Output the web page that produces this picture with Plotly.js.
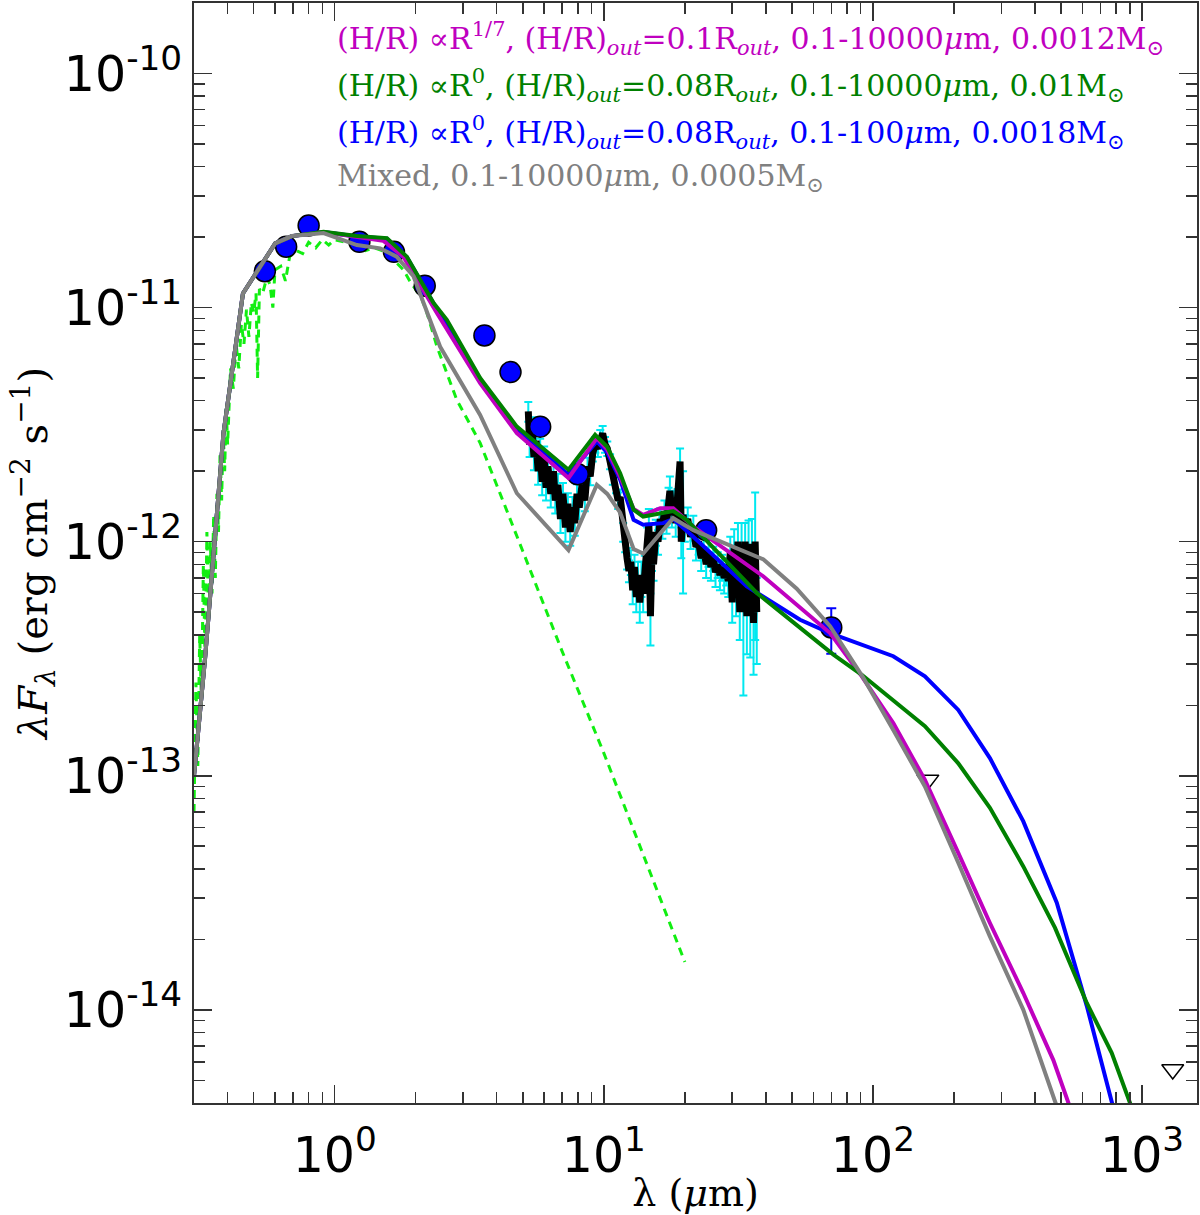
<!DOCTYPE html>
<html>
<head>
<meta charset="utf-8">
<script src="https://cdn.plot.ly/plotly-3.0.1.min.js"></script>
<style>
  body { margin: 0; background: #fff; }
  #sed { width: 1200px; height: 1215px; }
</style>
</head>
<body>
<div id="sed"></div>
<script>
'use strict';

// stellar photosphere (green dashed), wavelength in micron, lambda*F_lambda in erg/cm2/s
var starWav = [0.300, 0.305, 0.310, 0.315, 0.320, 0.325, 0.330, 0.335, 0.340, 0.345, 0.350, 0.355,
  0.360, 0.365, 0.370, 0.375, 0.380, 0.385, 0.390, 0.395, 0.400, 0.410, 0.420, 0.430, 0.440,
  0.450, 0.460, 0.470, 0.480, 0.490, 0.500, 0.510, 0.517, 0.525, 0.540, 0.560, 0.575, 0.589,
  0.600, 0.630, 0.656, 0.680, 0.720, 0.760, 0.800, 0.850, 0.900, 0.950, 1.00, 1.10, 1.20, 1.30,
  1.40, 1.50, 1.60, 1.70, 1.80, 1.90, 2.00, 2.10, 2.20, 2.40, 2.84, 3.47, 5.0, 7.0, 10.0, 14.0, 20.0];
var starFlux = [7.0e-14, 2.5e-13, 1.1e-13, 4.0e-13, 2.0e-13, 8.0e-13, 3.0e-13, 1.1e-12, 4.5e-13, 1.0e-12, 6.0e-13, 1.3e-12,
  7.0e-13, 1.6e-12, 1.1e-12, 2.4e-12, 1.5e-12, 3.0e-12, 2.0e-12, 3.8e-12, 2.6e-12, 5.5e-12, 4.5e-12, 7.0e-12, 5.5e-12,
  8.5e-12, 7.0e-12, 9.8e-12, 7.5e-12, 1.05e-11, 9.5e-12, 1.15e-11, 5.0e-12, 1.2e-11, 1.15e-11, 1.35e-11, 1.25e-11, 1.0e-11,
  1.45e-11, 1.5e-11, 1.3e-11, 1.65e-11, 1.75e-11, 1.7e-11, 1.9e-11, 1.8e-11, 1.95e-11, 1.85e-11, 1.95e-11, 1.9e-11, 1.85e-11, 1.75e-11,
  1.8e-11, 1.75e-11, 1.7e-11, 1.55e-11, 1.45e-11, 1.3e-11, 1.2e-11, 1.1e-11, 9.5e-12, 6.8e-12, 4.04e-12, 2.64e-12, 9.1e-13, 3.4e-13, 1.25e-13, 4.6e-14, 1.6e-14];

// Spitzer IRS spectrum (black) and its errors, flux in units of 1e-12
var irsWav = [5.24, 5.3, 5.4, 5.5, 5.6, 5.7, 5.8, 5.9, 6.0, 6.1, 6.2, 6.35, 6.5, 6.6, 6.75, 6.9, 7.05, 7.2, 7.35, 7.5,
  7.65, 7.8, 7.95, 8.1, 8.3, 8.5, 8.7, 8.9, 9.1, 9.3, 9.5, 9.7, 9.9, 10.1, 10.3, 10.55, 10.8, 11.1, 11.3, 11.5,
  11.8, 12.0, 12.2, 12.4, 12.6, 12.8, 13.0, 13.2, 13.4, 13.6, 13.8, 14.0, 14.2, 14.5, 14.7, 14.9, 15.1, 15.3, 15.6, 15.9,
  16.2, 16.5, 16.8, 17.1, 17.4, 17.6, 17.9, 18.2, 18.5, 18.8, 19.2, 19.4, 19.7, 20.0, 20.5, 21.0, 21.5, 22.0, 22.5, 23.0,
  23.5, 24.0, 24.5, 25.0, 25.5, 26.0, 26.5, 27.0, 27.5, 28.0, 28.5, 29.0, 29.5, 30.0, 30.5, 31.0, 31.5, 32.0, 32.5, 33.0,
  33.5, 34.0, 34.5, 35.0, 35.5, 36.0, 36.5, 37.0];
var irsFlux = [3.6, 2.6, 3.1, 2.3, 2.7, 2.0, 2.5, 1.8, 2.3, 1.7, 2.1, 1.6, 2.0, 1.5, 1.75, 1.25, 1.6, 1.15, 1.45, 1.1,
  1.4, 1.2, 1.6, 1.4, 1.75, 1.5, 2.1, 1.9, 2.4, 2.6, 2.5, 2.8, 2.9, 2.6, 2.5, 2.2, 1.9, 1.75, 1.5, 1.55,
  1.1, 1.0, 0.85, 0.75, 0.82, 0.62, 0.78, 0.58, 0.72, 0.55, 0.7, 0.6, 0.75, 1.0, 1.2, 0.48, 0.9, 0.8, 1.1, 1.0,
  1.25, 1.15, 1.35, 1.2, 1.5, 1.65, 1.3, 1.45, 1.2, 1.5, 2.2, 1.0, 1.3, 1.15, 1.25, 1.05, 1.15, 0.95, 1.0, 0.85,
  0.95, 0.8, 0.9, 0.78, 0.85, 0.74, 0.8, 0.72, 0.78, 0.7, 0.75, 0.68, 0.9, 0.55, 0.95, 0.6, 1.0, 0.5, 0.95, 0.55,
  1.0, 0.48, 0.98, 0.52, 0.95, 0.45, 1.0, 0.5];
var irsErr = [0.35, 0.3, 0.3, 0.28, 0.28, 0.25, 0.25, 0.22, 0.25, 0.2, 0.22, 0.2, 0.2, 0.18, 0.2, 0.16, 0.18, 0.15, 0.16, 0.14,
  0.15, 0.14, 0.16, 0.15, 0.16, 0.15, 0.18, 0.16, 0.2, 0.2, 0.2, 0.2, 0.22, 0.2, 0.18, 0.16, 0.15, 0.14, 0.12, 0.12,
  0.1, 0.1, 0.09, 0.08, 0.1, 0.08, 0.1, 0.08, 0.1, 0.1, 0.12, 0.1, 0.12, 0.15, 0.18, 0.12, 0.15, 0.12, 0.14, 0.12,
  0.14, 0.12, 0.15, 0.12, 0.2, 0.25, 0.15, 0.2, 0.15, 0.18, 0.3, 0.15, 0.7, 0.15, 0.15, 0.12, 0.14, 0.12, 0.12, 0.1,
  0.12, 0.1, 0.12, 0.1, 0.1, 0.1, 0.1, 0.1, 0.1, 0.1, 0.1, 0.1, 0.15, 0.1, 0.18, 0.12, 0.2, 0.12, 0.25, 0.33,
  0.2, 0.15, 0.25, 0.2, 0.3, 0.18, 0.62, 0.2];

// broadband photometry (blue dots)
var photWav = [0.55, 0.66, 0.80, 1.235, 1.66, 2.16, 3.6, 4.5, 5.8, 8.0, 24, 70];
var photFlux = [1.43e-11, 1.82e-11, 2.24e-11, 1.91e-11, 1.73e-11, 1.24e-11, 7.6e-12, 5.3e-12, 3.1e-12, 1.94e-12, 1.12e-12, 4.3e-13];
var photErrUp = [0, 0, 0, 0, 0, 0, 0, 0, 0, 0, 0, 0.9e-13];
var photErrDn = [0, 0, 0, 0, 0, 0, 0, 0, 0, 0, 0, 0.98e-13];

// upper limits (open triangles)
var limWav = [160, 1300];
var limFlux = [9.6e-14, 5.56e-15];

// disc models
var magWav = [0.30, 0.33, 0.386, 0.456, 0.601, 0.693, 0.909, 1.21, 1.514, 1.80, 2.40, 3.47, 4.75, 7.39, 9.42, 10.3, 11.5,
  12.9, 14.0, 16.2, 18.1, 21.5, 39.2, 69.3, 90.9, 119, 156, 207.5, 272, 362, 468, 640];
var magFlux = [1.0e-13, 3.2e-13, 2.9e-12, 1.15e-11, 1.88e-11, 2.02e-11, 2.1e-11, 2.0e-11, 1.93e-11, 1.65e-11, 9.46e-12, 4.75e-12, 2.91e-12, 1.87e-12, 2.77e-12, 2.47e-12, 1.89e-12,
  1.38e-12, 1.30e-12, 1.39e-12, 1.39e-12, 1.16e-12, 7.1e-13, 4.07e-13, 2.66e-13, 1.68e-13, 9.6e-14, 4.68e-14, 2.35e-14, 1.18e-14, 6.1e-15, 2.2e-15];

var grnWav = [0.30, 0.33, 0.386, 0.456, 0.601, 0.693, 0.909, 1.21, 1.563, 1.854, 2.33, 2.61, 3.47, 4.75, 7.39, 9.28, 10.3, 11.5,
  12.9, 14.0, 18.1, 20.3, 37.0, 71.3, 90.9, 119, 156, 207.5, 272, 362, 475, 623, 771, 950];
var grnFlux = [1.0e-13, 3.2e-13, 2.9e-12, 1.15e-11, 1.88e-11, 2.02e-11, 2.11e-11, 2.02e-11, 1.98e-11, 1.65e-11, 1.045e-11, 8.86e-12, 5.0e-12, 3.1e-12, 2.03e-12, 2.86e-12, 2.54e-12, 1.96e-12,
  1.37e-12, 1.28e-12, 1.35e-12, 1.24e-12, 6.04e-13, 3.29e-13, 2.7e-13, 2.11e-13, 1.63e-13, 1.13e-13, 7.3e-14, 4.1e-14, 2.24e-14, 1.07e-14, 6.55e-15, 3.4e-15];

var bluWav = [0.30, 0.33, 0.386, 0.456, 0.601, 0.693, 0.909, 1.21, 1.563, 1.854, 2.40, 3.47, 4.75, 7.39, 9.42, 10.3, 11.5,
  12.9, 14.0, 16.6, 18.1, 21.5, 34.0, 53.6, 69.3, 119, 156, 207.5, 272, 362, 482, 623, 771, 950];
var bluFlux = [1.0e-13, 3.2e-13, 2.9e-12, 1.15e-11, 1.88e-11, 2.02e-11, 2.1e-11, 2.01e-11, 1.97e-11, 1.64e-11, 9.8e-12, 4.85e-12, 3.0e-12, 1.93e-12, 2.68e-12, 2.4e-12, 1.84e-12,
  1.24e-12, 1.18e-12, 1.2e-12, 1.25e-12, 1.05e-12, 6.44e-13, 4.64e-13, 4.07e-13, 3.24e-13, 2.66e-13, 1.91e-13, 1.19e-13, 6.38e-14, 2.87e-14, 1.04e-14, 4.06e-15, 1.55e-15];

var gryWav = [0.30, 0.33, 0.386, 0.456, 0.601, 0.693, 0.909, 1.209, 1.476, 1.70, 1.962, 2.465, 3.47, 4.75, 7.39, 9.42, 10.3, 11.5,
  12.9, 14.0, 18.1, 21.5, 39.2, 52.1, 69.3, 92.1, 119, 156, 207.5, 272, 362, 475, 640];
var gryFlux = [1.0e-13, 3.2e-13, 2.9e-12, 1.15e-11, 1.88e-11, 2.02e-11, 2.08e-11, 1.85e-11, 1.79e-11, 1.65e-11, 1.36e-11, 6.8e-12, 3.48e-12, 1.61e-12, 9.2e-13, 1.75e-12, 1.6e-12, 1.33e-12,
  9.3e-13, 8.9e-13, 1.26e-12, 1.12e-12, 8.4e-13, 6.3e-13, 4.35e-13, 2.62e-13, 1.57e-13, 9.0e-14, 4.25e-14, 2.06e-14, 1.0e-14, 4.06e-15, 1.6e-15];

var legendLines = [
  ['(H/R) ∝R<sup>1/7</sup>, (H/R)<sub><i>out</i></sub>=0.1R<sub><i>out</i></sub>, 0.1-10000<i>μ</i>m, 0.0012M<sub>⊙</sub>', '#bf00bf'],
  ['(H/R) ∝R<sup>0</sup>, (H/R)<sub><i>out</i></sub>=0.08R<sub><i>out</i></sub>, 0.1-10000<i>μ</i>m, 0.01M<sub>⊙</sub>', '#008000'],
  ['(H/R) ∝R<sup>0</sup>, (H/R)<sub><i>out</i></sub>=0.08R<sub><i>out</i></sub>, 0.1-100<i>μ</i>m, 0.0018M<sub>⊙</sub>', '#0000ff'],
  ['Mixed, 0.1-10000<i>μ</i>m, 0.0005M<sub>⊙</sub>', '#808080']
];
var legendY = [0.968, 0.925, 0.882, 0.841];

var xMajor = [1, 10, 100, 1000];
var xMajorText = ['10<sup>0</sup>', '10<sup>1</sup>', '10<sup>2</sup>', '10<sup>3</sup>'];
var yMajor = [1e-14, 1e-13, 1e-12, 1e-11, 1e-10];
var yMajorText = ['10<sup>-14</sup>', '10<sup>-13</sup>', '10<sup>-12</sup>', '10<sup>-11</sup>', '10<sup>-10</sup>'];

// minor tick positions 2..9 of each decade
function minorTicks(lo, hi) {
  var out = [];
  for (var e = lo; e <= hi; e++) {
    for (var m = 2; m <= 9; m++) out.push(m * Math.pow(10, e));
  }
  return out;
}

var irsScaled = irsFlux.map(function (v) { return v * 1e-12; });
var irsErrScaled = irsErr.map(function (v) { return v * 1e-12; });

function model(x, y, color) {
  return { x: x, y: y, type: 'scatter', mode: 'lines', line: { color: color, width: 4 }, hoverinfo: 'skip' };
}

var traces = [
  { x: starWav, y: starFlux, type: 'scatter', mode: 'lines',
    line: { color: '#11ee11', width: 3, dash: '8px,6px' } },
  { x: irsWav, y: irsScaled, type: 'scatter', mode: 'markers',
    marker: { size: 1, color: '#00e8f0' },
    error_y: { type: 'data', array: irsErrScaled, color: '#00e8f0', thickness: 2, width: 4 } },
  { x: irsWav, y: irsScaled, type: 'scatter', mode: 'lines',
    line: { color: '#000000', width: 7 } },
  { x: photWav, y: photFlux, type: 'scatter', mode: 'markers',
    marker: { size: 21, color: '#0000ff', line: { color: '#000000', width: 1.5 } },
    error_y: { type: 'data', symmetric: false, array: photErrUp, arrayminus: photErrDn,
      color: '#0000ff', thickness: 2, width: 5 } },
  { x: limWav, y: limFlux, type: 'scatter', mode: 'markers',
    marker: { symbol: 'triangle-down-open', size: 19, color: '#000000', line: { width: 1.5 } } },
  model(bluWav, bluFlux, '#0000ff'),
  model(magWav, magFlux, '#bf00bf'),
  model(grnWav, grnFlux, '#008000'),
  model(gryWav, gryFlux, '#808080')
];

var axisCommon = {
  type: 'log',
  showgrid: false,
  zeroline: false,
  showline: true,
  linecolor: '#333',
  linewidth: 2,
  mirror: 'ticks',
  ticks: 'inside',
  ticklen: 18,
  tickwidth: 1.5,
  tickcolor: '#333',
  tickmode: 'array',
  tickfont: { family: 'DejaVu Sans', size: 49, color: '#000' }
};

var layout = {
  width: 1200,
  height: 1215,
  margin: { l: 194, r: 3, t: 3, b: 112 },
  paper_bgcolor: '#fff',
  plot_bgcolor: '#fff',
  showlegend: false,
  font: { family: 'DejaVu Serif', color: '#000' },
  xaxis: Object.assign({}, axisCommon, {
    range: [Math.log10(0.3), Math.log10(1600)],
    tickvals: xMajor,
    ticktext: xMajorText,
    ticklabelstandoff: 8,
    minor: { tickmode: 'array', tickvals: minorTicks(-1, 3), ticks: 'inside', ticklen: 11, tickwidth: 1.5, tickcolor: '#333' },
    title: { text: 'λ (<i>μ</i>m)', font: { family: 'DejaVu Serif', size: 38 }, standoff: 0 }
  }),
  yaxis: Object.assign({}, axisCommon, {
    range: [Math.log10(4e-15), Math.log10(2e-10)],
    tickvals: yMajor,
    ticktext: yMajorText,
    minor: { tickmode: 'array', tickvals: minorTicks(-15, -11), ticks: 'inside', ticklen: 11, tickwidth: 1.5, tickcolor: '#333' },
    title: { text: '<i>λF</i><sub><i>λ</i></sub> (erg cm<sup>−2</sup> s<sup>−1</sup>)', font: { family: 'DejaVu Serif', size: 40 }, standoff: 4 }
  }),
  annotations: legendLines.map(function (l, i) {
    return { xref: 'paper', yref: 'paper', x: 0.141, y: legendY[i], xanchor: 'left', yanchor: 'middle',
      text: l[0], showarrow: false, font: { family: 'DejaVu Serif', size: 30, color: l[1] } };
  })
};

Plotly.newPlot('sed', traces, layout, { staticPlot: true });
</script>
</body>
</html>
